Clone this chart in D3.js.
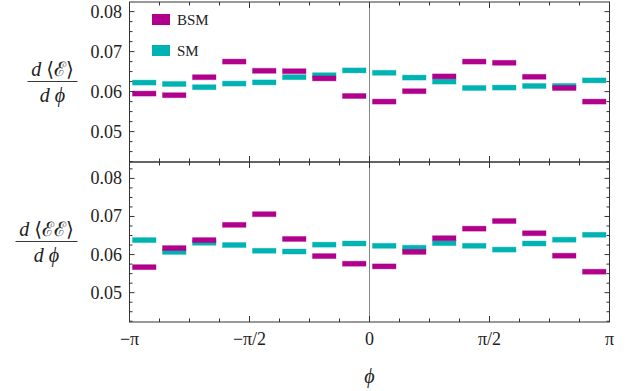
<!DOCTYPE html>
<html>
<head>
<meta charset="utf-8">
<script src="https://cdn.jsdelivr.net/npm/d3@7"></script>
<style>
body { margin:0; background:#fff; }
</style>
</head>
<body>
<div id="chart"></div>
<script>
const width = 638
const height = 391

// bins in units of pi/8, from -pi to pi
const binStart = [-8,-7,-6,-5,-4,-3,-2,-1,0,1,2,3,4,5,6,7]

const bsmE = [0.0595,0.0591,0.0636,0.0675,0.0652,0.0651,0.0633,0.0589,0.0575,0.0601,0.0638,0.0675,0.0672,0.0637,0.0609,0.0575]
const smE  = [0.06225,0.0619,0.0611,0.0620,0.0623,0.0636,0.0641,0.0653,0.0647,0.0635,0.0625,0.0609,0.0610,0.0614,0.0614,0.0628]

const bsmEE = [0.0567,0.0617,0.0638,0.0678,0.0706,0.0641,0.0596,0.0576,0.0569,0.0607,0.0643,0.0668,0.0688,0.0656,0.0597,0.0555]
const smEE  = [0.0638,0.0607,0.0631,0.0625,0.0610,0.0608,0.0626,0.0629,0.0623,0.0618,0.0630,0.0623,0.0613,0.0629,0.0639,0.0652]

const yTicks = [0.05,0.06,0.07,0.08]
const xTicks = [-Math.PI,-Math.PI/2,0,Math.PI/2,Math.PI]
const xTickLabels = ["\u2212\u03c0","\u2212\u03c0/2","0","\u03c0/2","\u03c0"]
const seriesNames = ["BSM","SM"]

const magenta = "#b0008c"
const cyan = "#00b3b3"
const frameColor = "#333"
const serif = "'Liberation Serif', 'DejaVu Serif', serif"

const left = 129.5, right = 609.5

const svg = d3.select("div#chart").append("svg").attr("width",width).attr("height",height)
    .attr("font-family",serif)

const x = d3.scaleLinear().domain([-Math.PI,Math.PI]).range([left,right])

const panels = [
    {top:2, bottom:162, domain:[0.0424,0.0824], bsm:bsmE, sm:smE, label:"\u27e8\u2130\u27e9", lx:52.5, half:25, fy:81.5},
    {top:162, bottom:322, domain:[0.0423,0.0843], bsm:bsmEE, sm:smEE, label:"\u27e8\u2130\u2130\u27e9", lx:46.5, half:31, fy:241.5}
]

// zero line across both panels
svg.append("line")
    .attr("x1",x(0)).attr("x2",x(0))
    .attr("y1",2).attr("y2",322)
    .attr("stroke","#888").attr("stroke-width",1)

panels.forEach(p => {
    const y = d3.scaleLinear().domain(p.domain).range([p.bottom,p.top])
    const g = svg.append("g")

    const drawBars = (vals,col) => {
        g.selectAll(null).data(vals).enter()
            .append("rect")
            .attr("x",(d,i) => x(binStart[i]*Math.PI/8) + 3)
            .attr("width",(d,i) => x((binStart[i]+1)*Math.PI/8) - x(binStart[i]*Math.PI/8) - 6.5)
            .attr("y",d => y(d) - 2.5)
            .attr("height",5)
            .attr("fill",col)
            .attr("stroke",col).attr("stroke-opacity",0.35).attr("stroke-width",1)
    }
    drawBars(p.sm,cyan)
    drawBars(p.bsm,magenta)

    // frame
    g.append("rect")
        .attr("x",left).attr("y",p.top)
        .attr("width",right-left).attr("height",p.bottom-p.top)
        .attr("fill","none").attr("stroke",frameColor).attr("stroke-width",1)

    // y ticks, left and right, inward
    d3.range(0.0425,p.domain[1],0.0025).forEach(v => {
        const major = yTicks.some(t => Math.abs(t-v) < 1e-6)
        const len = major ? 5 : 3
        g.append("line").attr("x1",left).attr("x2",left+len).attr("y1",y(v)).attr("y2",y(v)).attr("stroke",frameColor)
        g.append("line").attr("x1",right).attr("x2",right-len).attr("y1",y(v)).attr("y2",y(v)).attr("stroke",frameColor)
    })
    yTicks.forEach(v => {
        g.append("text").attr("x",122).attr("y",y(v)+6)
            .attr("text-anchor","end").attr("font-size",18).attr("fill","#222")
            .text(v.toFixed(2))
    })

    // x ticks, top and bottom, inward
    d3.range(-8,9).forEach(k => {
        const len = k % 4 === 0 ? 6 : 3.5
        const xv = x(k*Math.PI/8)
        g.append("line").attr("x1",xv).attr("x2",xv).attr("y1",p.top).attr("y2",p.top+len).attr("stroke",frameColor)
        g.append("line").attr("x1",xv).attr("x2",xv).attr("y1",p.bottom).attr("y2",p.bottom-len).attr("stroke",frameColor)
    })

    // fraction label
    const num = g.append("text").attr("x",p.lx).attr("y",p.fy-6).attr("text-anchor","middle").attr("font-size",20).attr("fill","#222")
    num.append("tspan").attr("font-style","italic").text("d ")
    num.append("tspan").text(p.label)
    g.append("line").attr("x1",p.lx - p.half).attr("x2",p.lx + p.half)
        .attr("y1",p.fy).attr("y2",p.fy).attr("stroke","#222").attr("stroke-width",0.9)
    g.append("text").attr("x",p.lx).attr("y",p.fy+20).attr("text-anchor","middle").attr("font-size",20)
        .attr("font-style","italic").attr("fill","#222").text("d \u03d5")
})

// x tick labels
xTicks.forEach((t,i) => {
    svg.append("text").attr("x",x(t)).attr("y",345)
        .attr("text-anchor","middle").attr("font-size",18).attr("fill","#222")
        .text(xTickLabels[i])
})
svg.append("text").attr("x",x(0)).attr("y",383)
    .attr("text-anchor","middle").attr("font-size",20).attr("font-style","italic").attr("fill","#222")
    .text("\u03d5")

// legend
const legend = svg.append("g")
;[magenta,cyan].forEach((c,i) => {
    legend.append("rect").attr("x",152).attr("y",14 + i*31).attr("width",18).attr("height",11).attr("fill",c)
    legend.append("text").attr("x",177).attr("y",25 + i*31).attr("font-size",15).attr("fill","#222").text(seriesNames[i])
})
</script>
</body>
</html>
